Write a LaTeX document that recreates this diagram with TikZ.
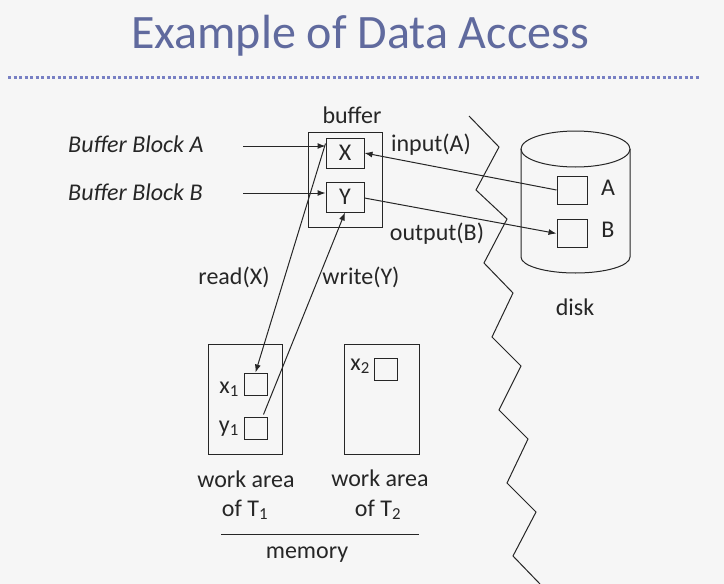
\documentclass[tikz,border=0pt]{standalone}
\usepackage{fontspec}
\setmainfont{Carlito}
\usepackage{tikz}
\usetikzlibrary{arrows.meta,positioning,calc}
\definecolor{titleblue}{RGB}{96,106,158}
\definecolor{dotblue}{RGB}{120,128,196}
\definecolor{ink}{RGB}{38,38,38}
\definecolor{paper}{RGB}{246,246,246}
\newcommand{\txt}{\fontsize{24}{29}\selectfont}
\newcommand{\sub}[1]{\textsubscript{#1}}

\begin{document}
\begin{tikzpicture}[x=1pt,y=-1pt,>={Latex[length=8pt,width=6pt]},
    every node/.style={text=ink,font=\txt,inner sep=0pt},
    lbl/.style={anchor=base},
    cell/.style={draw=ink,line width=1pt,minimum width=38pt,minimum height=30pt},
    slot/.style={draw=ink,line width=1pt,minimum width=23pt,minimum height=22pt},
    dslot/.style={draw=ink,line width=1pt,minimum width=30pt,minimum height=28pt},
    area/.style={draw=ink,line width=1pt,minimum width=74pt,minimum height=110pt},
    link/.style={draw=ink,line width=1pt,->}]
    \fill[paper] (0,0) rectangle (724,584);
    \useasboundingbox (0,0) rectangle (724,584);
    \node[lbl,text=titleblue,font=\fontsize{48}{56}\selectfont] (title) at (360,48) {Example of Data Access};
    \draw[dotblue,line width=3pt,dash pattern=on 3pt off 2.5pt] (8,77) -- (700,77);
    % buffer
    \node[draw=ink,line width=1pt,minimum width=74pt,minimum height=95pt] (buffer) at (345,179.5) {};
    \node[lbl] (bufname) at (352,123) {buffer};
    \node[cell] (X) at (345,153) {X};
    \node[cell] (Y) at (345,197) {Y};
    \node[lbl,anchor=base west,font=\txt\itshape] (blkA) at (68,152) {Buffer Block A};
    \node[lbl,anchor=base west,font=\txt\itshape] (blkB) at (68,200) {Buffer Block B};
    \coordinate (inA) at (243,146);
    \coordinate (inB) at (243,193);
    \draw[link] (inA) -- (inA -| X.west);
    \draw[link] (inB) -- (inB -| Y.west);
    % disk
    \draw[ink,line width=1pt] (575.5,149) ellipse [x radius=54.5pt, y radius=18pt];
    \draw[ink,line width=1pt] (521,149) -- (521,257) arc [start angle=180, end angle=360, x radius=54.5pt, y radius=16pt] -- (630,149);
    \node[dslot] (diskA) at (572,190) {};
    \node[dslot] (diskB) at (572,233.5) {};
    \node[lbl] (nameA) at (608,195) {A};
    \node[lbl] (nameB) at (608,237) {B};
    \node[lbl] (disk) at (575,315) {disk};
    \draw[link] (diskA.west) -- (X.east);
    \draw[link] ([yshift=-1pt]Y.east) -- (diskB.west);
    \node[lbl] (inlbl) at (431,151) {input(A)};
    \node[lbl] (outlbl) at (437,240) {output(B)};
    % memory
    \node[area] (T1) at (245,399) {};
    \node[area,minimum width=75pt] (T2) at (381.5,399) {};
    \node[slot] (x1) at (255.5,384) {};
    \node[slot] (y1) at (255.5,428) {};
    \node[slot] (x2) at (385.5,369.5) {};
    \node[lbl,anchor=base east] (x1name) at (239,393) {x\sub{1}};
    \node[lbl,anchor=base east] (y1name) at (239,432) {y\sub{1}};
    \node[lbl,anchor=base east] (x2name) at (370,370) {x\sub{2}};
    \draw[link] ($(X.north west)+(0,6)$) -- (x1.north);
    \draw[link] ($(y1.north east)+(-4,-2)$) -- (Y.south);
    \node[lbl] (readlbl) at (234,284) {read(X)};
    \node[lbl] (writelbl) at (361,284) {write(Y)};
    \node[lbl] (wa1) at (246,487) {work area};
    \node[lbl] (of1) at (245,516) {of T\sub{1}};
    \node[lbl] (wa2) at (380,486) {work area};
    \node[lbl] (of2) at (378,516) {of T\sub{2}};
    \coordinate (memL) at (221,534);
    \coordinate (memR) at (419,534);
    \draw[ink,line width=1pt] (memL) -- (memR);
    \node[lbl] (memory) at (307,558) {memory};
    % boundary
    \draw[ink,line width=1pt] (469,116) -- (499,147) -- (476,190) -- (507,219) -- (484,263) -- (513,293) -- (492,337) -- (521,366) -- (499,410) -- (528,439) -- (507,483) -- (536,512) -- (513,556) -- (540,584);
\end{tikzpicture}
\end{document}
